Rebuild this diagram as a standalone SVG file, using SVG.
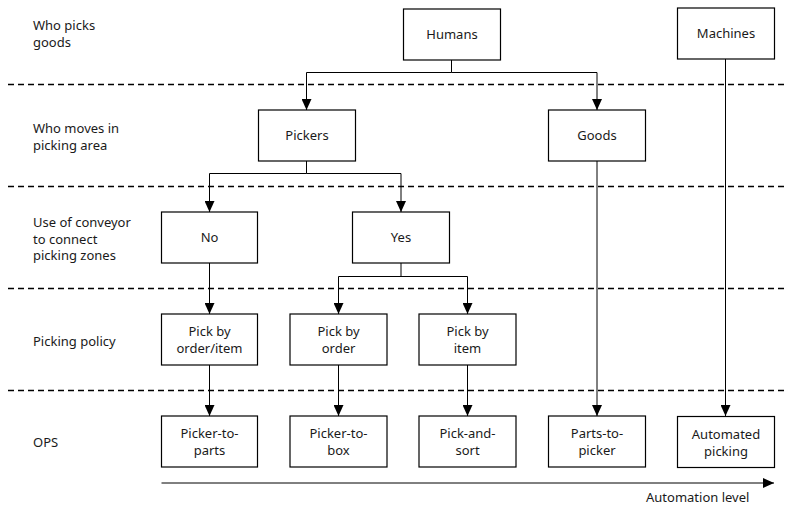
<svg xmlns="http://www.w3.org/2000/svg" width="785" height="506" viewBox="0 0 785 506">
<defs>
<marker id="ah" markerUnits="userSpaceOnUse" markerWidth="11" markerHeight="10" refX="11" refY="5" orient="auto">
<path d="M0,0 L11,5 L0,10 z" fill="#000"/>
</marker>
<style>
text{font-family:"Noto Sans","Open Sans",sans-serif;font-size:13px;fill:#1a1a1a}
.c{text-anchor:middle}
.box{fill:#fff;stroke:#000;stroke-width:1.2}
.dash{stroke:#000;stroke-width:1.3;stroke-dasharray:6,4;fill:none}
.ln{stroke:#000;stroke-width:1;fill:none}
.ar{marker-end:url(#ah)}
</style>
</defs>
<rect width="785" height="506" fill="#fff"/>
<g id="bands">
<line class="dash" x1="8" y1="84.5" x2="785" y2="84.5"/>
<line class="dash" x1="8" y1="186.5" x2="785" y2="186.5"/>
<line class="dash" x1="8" y1="288.5" x2="785" y2="288.5"/>
<line class="dash" x1="8" y1="390.5" x2="785" y2="390.5"/>
</g>
<g id="row-labels">
<text x="33" y="29.5">Who picks</text>
<text x="33" y="46.5">goods</text>
<text x="33" y="132.5">Who moves in</text>
<text x="33" y="149.5">picking area</text>
<text x="33" y="226.5">Use of conveyor</text>
<text x="33" y="243.5">to connect</text>
<text x="33" y="260">picking zones</text>
<text x="33" y="345.5">Picking policy</text>
<text x="33" y="446.5">OPS</text>
</g>
<g id="connectors">
<path class="ln ar" d="M451.5,60 V72.5 H306.5 V110"/>
<path class="ln ar" d="M451.5,72.5 H597 V110"/>
<path class="ln ar" d="M725.5,59 V416"/>
<path class="ln ar" d="M306.5,161 V173.5 H209.5 V212"/>
<path class="ln ar" d="M306.5,173.5 H401 V212"/>
<path class="ln ar" d="M597,161 V416"/>
<path class="ln ar" d="M209.5,263 V314"/>
<path class="ln ar" d="M401,263 V276.5 H338.5 V314"/>
<path class="ln ar" d="M401,276.5 H467.5 V314"/>
<path class="ln ar" d="M209.5,365 V416"/>
<path class="ln ar" d="M338.5,365 V416"/>
<path class="ln ar" d="M467.5,365 V416"/>
<path class="ln ar" d="M161.5,483 H774"/>
</g>
<g id="humans"><rect class="box" x="403.5" y="9" width="97" height="51"/><text class="c" x="452" y="39">Humans</text></g>
<g id="machines"><rect class="box" x="677.5" y="8" width="97" height="51"/><text class="c" x="726" y="38">Machines</text></g>
<g id="pickers"><rect class="box" x="258.5" y="110" width="97" height="51"/><text class="c" x="307" y="140">Pickers</text></g>
<g id="goods"><rect class="box" x="548.5" y="110" width="97" height="51"/><text class="c" x="597" y="140">Goods</text></g>
<g id="no"><rect class="box" x="161.5" y="212" width="96" height="51"/><text class="c" x="209.5" y="242">No</text></g>
<g id="yes"><rect class="box" x="352.5" y="212" width="97" height="51"/><text class="c" x="401" y="242">Yes</text></g>
<g id="pick-order-item"><rect class="box" x="161.5" y="314" width="96" height="51"/><text class="c" x="209.5" y="336">Pick by</text><text class="c" x="209.5" y="353">order/item</text></g>
<g id="pick-order"><rect class="box" x="290" y="314" width="97" height="51"/><text class="c" x="338.5" y="336">Pick by</text><text class="c" x="338.5" y="353">order</text></g>
<g id="pick-item"><rect class="box" x="419" y="314" width="97" height="51"/><text class="c" x="467.5" y="336">Pick by</text><text class="c" x="467.5" y="353">item</text></g>
<g id="picker-to-parts"><rect class="box" x="161.5" y="416" width="96" height="51"/><text class="c" x="209.5" y="438">Picker-to-</text><text class="c" x="209.5" y="455">parts</text></g>
<g id="picker-to-box"><rect class="box" x="290" y="416" width="97" height="51"/><text class="c" x="338.5" y="438">Picker-to-</text><text class="c" x="338.5" y="455">box</text></g>
<g id="pick-and-sort"><rect class="box" x="419" y="416" width="97" height="51"/><text class="c" x="467.5" y="438">Pick-and-</text><text class="c" x="467.5" y="455">sort</text></g>
<g id="parts-to-picker"><rect class="box" x="548.5" y="416" width="97" height="51"/><text class="c" x="597" y="438">Parts-to-</text><text class="c" x="597" y="455">picker</text></g>
<g id="automated-picking"><rect class="box" x="677.5" y="416.5" width="97" height="51"/><text class="c" x="726" y="438.5">Automated</text><text class="c" x="726" y="455.5">picking</text></g>
<g id="axis-label"><text x="646" y="502">Automation level</text></g>
</svg>
